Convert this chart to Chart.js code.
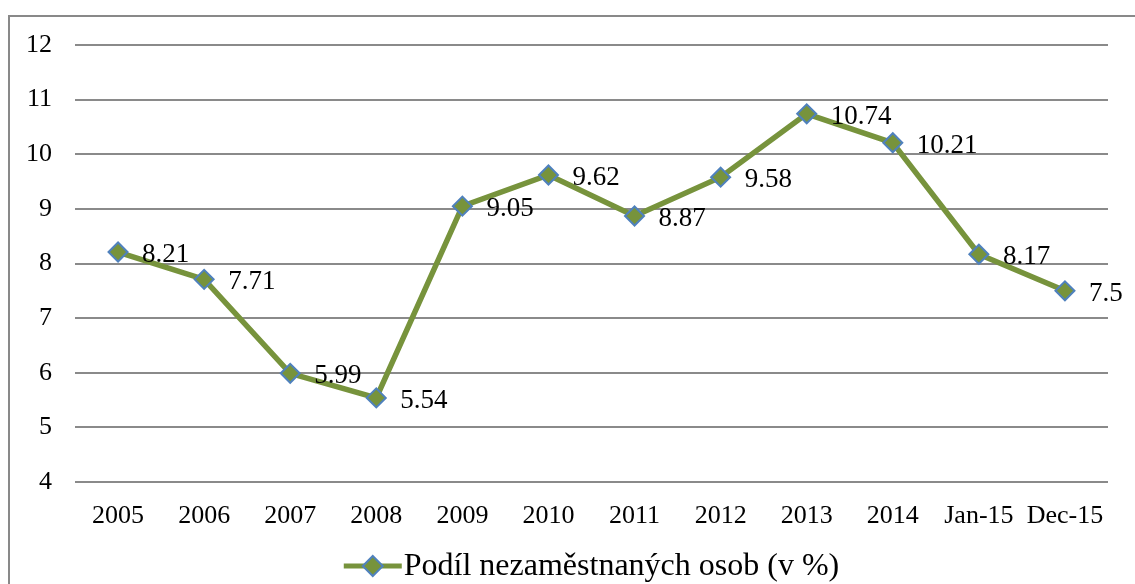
<!DOCTYPE html>
<html>
<head>
<meta charset="utf-8">
<script src="https://cdn.jsdelivr.net/npm/chart.js@4.4.0/dist/chart.umd.min.js"></script>
<style>
  body { margin: 0; background: #fff; }
  #frame { position: absolute; left: 8px; top: 15px; width: 1200px; height: 700px;
           border-left: 2px solid #898989; border-top: 2px solid #898989; }
  #myChart { position: absolute; left: 0; top: 0; }
</style>
</head>
<body>
<div id="frame"></div>
<canvas id="myChart" width="1135" height="584"></canvas>
<script>
'use strict';
// ---------- Data ------------- //
let categories = ['2005', '2006', '2007', '2008', '2009', '2010', '2011', '2012', '2013', '2014', 'Jan-15', 'Dec-15'];
let unemployment = [8.21, 7.71, 5.99, 5.54, 9.05, 9.62, 8.87, 9.58, 10.74, 10.21, 8.17, 7.5];
let seriesName = 'Podíl nezaměstnaných osob (v %)';
let yMin = 4;
let yMax = 12;

let serif = "'Liberation Serif', 'Times New Roman', serif";
let green = '#77933C';
let blue = '#4F81BD';

// ---------- Plugins ------------- //
let valueLabels = {
    id: 'valueLabels',
    afterDatasetsDraw(chart){
        let ctx = chart.ctx;
        let meta = chart.getDatasetMeta(0);
        ctx.save();
        ctx.font = '27px ' + serif;
        ctx.fillStyle = '#000';
        ctx.textAlign = 'left';
        ctx.textBaseline = 'middle';
        for (let i = 0; i < meta.data.length; i++){
            let p = meta.data[i];
            ctx.fillText(String(unemployment[i]), p.x + 24, p.y + 3);
        }
        ctx.restore();
    }
};

let bottomLegend = {
    id: 'bottomLegend',
    afterDraw(chart){
        let ctx = chart.ctx;
        let area = chart.chartArea;
        ctx.save();
        ctx.font = '32px ' + serif;
        let textW = ctx.measureText(seriesName).width;
        let sampleW = 58;
        let total = sampleW + 2 + textW;
        let x0 = (area.left + area.right) / 2 - total / 2;
        let y = 566;
        ctx.strokeStyle = green;
        ctx.lineWidth = 5;
        ctx.beginPath();
        ctx.moveTo(x0, y);
        ctx.lineTo(x0 + sampleW, y);
        ctx.stroke();
        let cx = x0 + sampleW / 2;
        ctx.beginPath();
        ctx.moveTo(cx, y - 10);
        ctx.lineTo(cx + 10, y);
        ctx.lineTo(cx, y + 10);
        ctx.lineTo(cx - 10, y);
        ctx.closePath();
        ctx.fillStyle = green;
        ctx.fill();
        ctx.strokeStyle = blue;
        ctx.lineWidth = 2;
        ctx.stroke();
        ctx.fillStyle = '#000';
        ctx.textAlign = 'left';
        ctx.textBaseline = 'middle';
        ctx.fillText(seriesName, x0 + sampleW + 2, y + 1);
        ctx.restore();
    }
};

// ---------- Chart ------------- //
let chartObject = {
    type: 'line',
    data: {
        labels: categories,
        datasets: [{
            label: seriesName,
            data: unemployment,
            borderColor: green,
            borderWidth: 5.5,
            tension: 0,
            pointStyle: 'rectRot',
            pointRadius: 9.5,
            pointHoverRadius: 9.5,
            pointBackgroundColor: green,
            pointBorderColor: blue,
            pointBorderWidth: 2
        }]
    },
    options: {
        responsive: false,
        animation: false,
        layout: {
            padding: { left: 0, right: 27, top: 45, bottom: 0 }
        },
        plugins: {
            legend: { display: false },
            tooltip: { enabled: false }
        },
        scales: {
            x: {
                offset: true,
                grid: { display: false },
                border: { display: false },
                ticks: {
                    color: '#000',
                    padding: 11,
                    maxRotation: 0,
                    autoSkip: false,
                    font: { family: serif, size: 26 }
                },
                afterFit(axis){ axis.height = 102; }
            },
            y: {
                min: yMin,
                max: yMax,
                grid: { color: '#8a8a8a', lineWidth: 2, drawTicks: false },
                border: { display: false },
                ticks: {
                    stepSize: 1,
                    color: '#000',
                    padding: 23,
                    font: { family: serif, size: 26 }
                },
                afterFit(axis){ axis.width = 75; }
            }
        }
    },
    plugins: [valueLabels, bottomLegend]
};

let ctx = document.getElementById('myChart').getContext('2d');
let myChart = new Chart(ctx, chartObject);
</script>
</body>
</html>
